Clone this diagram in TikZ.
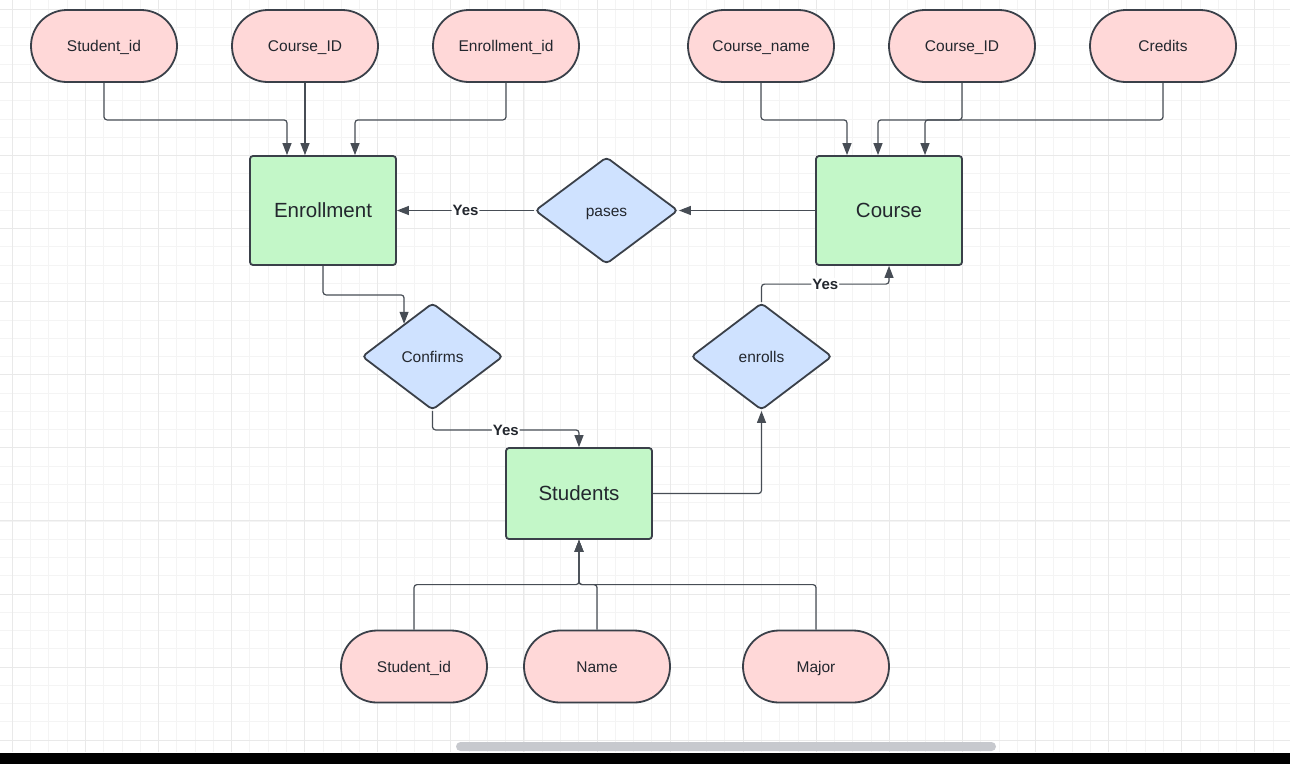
\documentclass[tikz,border=0pt]{standalone}
\usepackage{fontspec}
\setmainfont{Liberation Sans}
\usepackage{xcolor}
\usepackage{tikz}
\usetikzlibrary{positioning,arrows.meta,shapes.geometric,shapes.misc}

\definecolor{attrfill}{HTML}{FFD8D8}
\definecolor{entfill}{HTML}{C3F7C8}
\definecolor{relfill}{HTML}{CFE2FF}
\definecolor{edge}{HTML}{3A4049}
\definecolor{link}{HTML}{474D55}
\definecolor{txt}{HTML}{23272E}
\definecolor{gridmin}{HTML}{F4F4F4}
\definecolor{gridmaj}{HTML}{E9E9E9}
\definecolor{scroll}{HTML}{C7C9CE}

\begin{document}
\begin{tikzpicture}[
  x=1pt,y=-1pt,
  font=\fontsize{15.5}{18}\selectfont,
  text=txt,
  attr/.style={rounded rectangle,draw=edge,line width=1.8pt,fill=attrfill,
               minimum width=146pt,minimum height=72pt,inner sep=0pt,
               text height=11.1pt,text depth=0pt},
  ent/.style={draw=edge,line width=1.8pt,fill=entfill,rounded corners=3pt,
              minimum width=146pt,minimum height=109pt,inner sep=0pt,
              font=\fontsize{20.5}{24}\selectfont,text height=14.7pt,text depth=0pt},
  rel/.style={diamond,draw=edge,line width=1.8pt,fill=relfill,rounded corners=4pt,
              minimum width=143pt,minimum height=107pt,inner sep=0pt,
              text height=11.1pt,text depth=0pt},
  ar/.style={-{Triangle[length=12pt,width=9pt]},draw=link,line width=1.2pt,
             rounded corners=3pt},
  yes/.style={fill=white,inner sep=1pt,font=\bfseries\fontsize{15}{17}\selectfont,
              text height=10.7pt,text depth=0pt}
]
\useasboundingbox (0,0) rectangle (1290,764);
% canvas grid
\foreach \i in {0,...,70} \draw[gridmin,line width=0.7pt] ({12.3+18.27*\i},0) -- ++(0,752);
\foreach \j in {-1,...,40} \draw[gridmin,line width=0.7pt] (0,{9.3+18.27*\j}) -- ++(1290,0);
\foreach \i in {0,...,17} \draw[gridmaj,line width=0.8pt] ({12.3+73.08*\i},0) -- ++(0,752);
\foreach \j in {0,...,10} \draw[gridmaj,line width=0.8pt] (0,{9.3+73.08*\j}) -- ++(1290,0);
% attributes of Enrollment
\node[attr] (sid) at (104,46) {Student\_id};
\node[attr,right=53.2pt of sid] (cid) {Course\_ID};
\node[attr,right=53.2pt of cid] (eid) {Enrollment\_id};
% attributes of Course
\node[attr] (cname) at (761,46) {Course\_name};
\node[attr,right=53.2pt of cname] (cid2) {Course\_ID};
\node[attr,right=53.2pt of cid2] (cred) {Credits};
% entities
\node[ent] (enrl) at (323,210.5) {Enrollment};
\node[ent] (crs) at (889,210.5) {Course};
\node[ent,minimum height=91pt] (stu) at (579,493.5) {Students};
% relationships
\node[rel] (pas) at (606.5,210.5) {pases};
\node[rel,minimum width=141pt] (cnf) at (432.5,356.5) {Confirms};
\node[rel,minimum width=141pt] (enro) at (761.5,356.5) {enrolls};
% attributes of Students
\node[attr] (ssid) at (414,666.5) {Student\_id};
\node[attr,right=35.2pt of ssid] (sname) {Name};
\node[attr,right=71.2pt of sname] (smaj) {Major};
% attribute links
\draw[ar] (sid.south) -- ++(0,37) -| ([xshift=-36pt]enrl.north);
\draw[ar] (cid.south) -- (cid.south |- enrl.north);
\draw[ar] (eid.south) -- ++(0,37) -| ([xshift=32pt]enrl.north);
\draw[ar] (cname.south) -- ++(0,37) -| ([xshift=-42pt]crs.north);
\draw[ar] (cid2.south) -- ++(0,37) -| ([xshift=-11pt]crs.north);
\draw[ar] (cred.south) -- ++(0,37) -| ([xshift=36pt]crs.north);
\draw[ar] (ssid.north) -- ++(0,-45) -| (stu.south);
\draw[ar] (sname.north) -- ++(0,-45) -| (stu.south);
\draw[ar] (smaj.north) -- ++(0,-45) -| (stu.south);
% relationship links
\draw[ar] (crs.west) -- (pas.east);
\draw[ar] (pas.west) -- node[yes] {Yes} (enrl.east);
\draw[ar] (enrl.south) -- ++(0,29) -| (cnf.131);
\draw[ar] (cnf.south) -- ++(0,19) -| node[yes,pos=0.25] {Yes} (stu.north);
\draw[ar] (stu.east) -| (enro.south);
\draw[ar] (enro.north) -- ++(0,-18) -| node[yes,pos=0.25] {Yes} (crs.south);
% window frame
\fill[scroll,rounded corners=4.5pt] (456,742) rectangle (996,751);
\fill[black] (0,752.5) rectangle (1290,764);
\end{tikzpicture}
\end{document}
